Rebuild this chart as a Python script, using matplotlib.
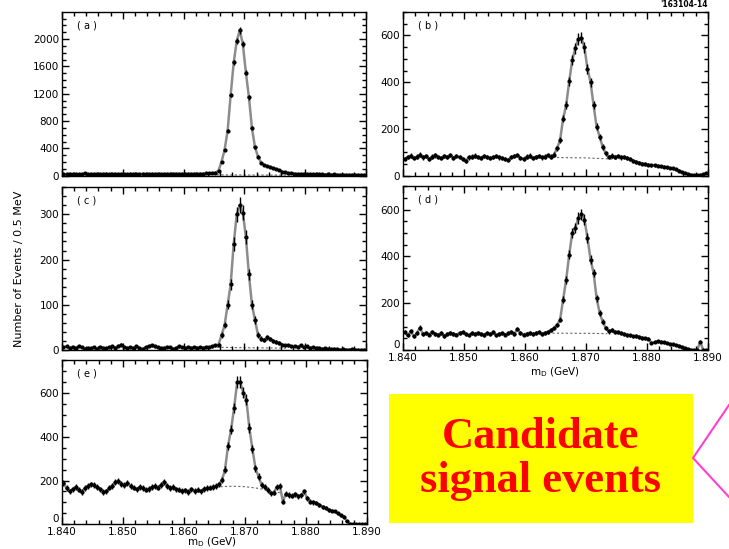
import numpy as np
import matplotlib.pyplot as plt
from matplotlib.patches import Rectangle
from matplotlib.lines import Line2D
from matplotlib.ticker import MultipleLocator, NullFormatter

# Binning: 0.5 MeV bins from 1.840 to 1.890 GeV
bin_lo = 1.840
bin_w = 0.0005
n_bins = 100

# Events per bin
counts_a = [28, 22, 30, 18, 25, 20, 24, 32, 19, 26,
            22, 28, 21, 25, 30, 20, 24, 27, 22, 26,
            24, 19, 28, 23, 26, 21, 30, 25, 22, 27,
            24, 28, 20, 26, 29, 23, 27, 31, 25, 28,
            26, 30, 24, 28, 25, 30, 28, 32, 35, 38,
            45, 75, 205, 377, 660, 1183, 1657, 1975, 2126, 1926,
            1510, 1149, 695, 416, 279, 190, 157, 140, 125, 110,
            94, 78, 60, 50, 38, 35, 30, 27, 25, 28,
            22, 24, 20, 22, 18, 21, 17, 19, 15, 18,
            14, 16, 13, 15, 12, 14, 11, 13, 10, 12]

counts_b = [72, 80, 86, 74, 82, 90, 78, 84, 70, 82,
            87, 80, 74, 85, 81, 88, 76, 83, 79, 72,
            64, 78, 82, 86, 80, 77, 84, 81, 75, 79,
            83, 78, 74, 70, 66, 80, 84, 88, 76, 72,
            82, 86, 74, 80, 84, 78, 82, 88, 82, 90,
            117, 152, 244, 301, 403, 495, 545, 585, 590, 549,
            457, 400, 301, 209, 166, 123, 95, 81, 86, 80,
            84, 78, 81, 74, 70, 64, 59, 56, 52, 50,
            47, 45, 44, 42, 40, 38, 35, 33, 31, 27,
            22, 16, 11, 7, 4, 3, 2, 4, 6, 12]

counts_c = [6, 8, 5, 7, 4, 9, 6, 3, 5, 4,
            6, 3, 7, 5, 4, 6, 8, 5, 9, 12,
            7, 5, 6, 4, 8, 5, 3, 6, 9, 11,
            8, 6, 4, 5, 7, 6, 3, 5, 8, 6,
            4, 7, 5, 6, 4, 6, 5, 7, 6, 8,
            10, 12, 33, 55, 100, 145, 235, 300, 320, 304,
            250, 167, 100, 66, 33, 25, 22, 28, 24, 20,
            17, 15, 12, 10, 11, 8, 9, 7, 10, 6,
            8, 5, 6, 4, 5, 3, 4, 3, 2, 3,
            2, 1, 2, 1, 1, 2, 1, 1, 0, 1]

counts_d = [75, 62, 80, 58, 72, 95, 68, 74, 66, 78,
            70, 64, 72, 60, 68, 74, 70, 66, 72, 76,
            69, 62, 71, 67, 74, 70, 65, 72, 68, 75,
            62, 70, 73, 66, 71, 78, 69, 90, 72, 66,
            70, 74, 68, 72, 76, 70, 74, 78, 84, 93,
            107, 129, 214, 300, 407, 500, 521, 564, 579, 557,
            479, 386, 329, 221, 157, 121, 93, 79, 84, 78,
            76, 72, 68, 64, 62, 58, 60, 55, 52, 50,
            48, 30, 34, 38, 35, 32, 30, 26, 24, 21,
            19, 14, 8, 4, 1, 0, 0, 35, 0, 0]

counts_e = [190, 165, 150, 160, 172, 158, 148, 165, 175, 182,
            178, 170, 160, 148, 150, 168, 175, 192, 196, 185,
            178, 190, 175, 168, 160, 172, 165, 158, 162, 170,
            175, 168, 180, 195, 176, 165, 170, 160, 158, 152,
            155, 148, 160, 152, 158, 150, 162, 165, 168, 172,
            175, 182, 203, 249, 359, 433, 532, 650, 650, 601,
            570, 440, 344, 257, 218, 180, 172, 157, 142, 145,
            170, 176, 104, 140, 134, 130, 138, 127, 132, 150,
            118, 104, 100, 97, 90, 81, 76, 66, 62, 59,
            50, 42, 35, 15, 3, 0, 0, 0, 0, 0]

# Background shape under the peak (dotted line)
bg_x_a = [1.8655, 1.870, 1.8775]
bg_y_a = [12, 10, 8]
bg_x_b = [1.8645, 1.870, 1.8755]
bg_y_b = [78, 76, 70]
bg_x_c = [1.8655, 1.870, 1.877]
bg_y_c = [6, 5, 4]
bg_x_d = [1.8645, 1.870, 1.8735]
bg_y_d = [72, 71, 70]
bg_x_e = [1.866, 1.868, 1.870, 1.872, 1.874, 1.876]
bg_y_e = [172, 174, 172, 165, 155, 142]

x = bin_lo + bin_w * (np.arange(n_bins) + 0.5)

fig = plt.figure(figsize=(7.29, 5.49), dpi=100)
plt.rcParams['font.family'] = 'DejaVu Sans'
bottom_axes = []


def draw_panel(rect, counts, bg_x, bg_y, ymax, ymaj, ymin, tag, xlabels):
    ax = fig.add_axes(rect)
    counts = np.array(counts, dtype=float)
    ax.plot(x, counts, color='0.55', lw=1.8, zorder=1)
    ax.plot(bg_x, bg_y, color='0.4', lw=0.8, ls=(0, (2, 2)), zorder=1)
    ax.errorbar(x, counts, yerr=np.sqrt(counts), xerr=bin_w / 2, fmt='o', ms=2.0,
                color='black', elinewidth=1.0, capsize=0, zorder=2)
    ax.set_xlim(1.840, 1.890)
    ax.set_ylim(0, ymax)
    ax.xaxis.set_major_locator(MultipleLocator(0.010))
    ax.xaxis.set_minor_locator(MultipleLocator(0.002))
    ax.yaxis.set_major_locator(MultipleLocator(ymaj))
    ax.yaxis.set_minor_locator(MultipleLocator(ymin))
    ax.tick_params(which='both', direction='in', top=True, right=True, width=1,
                   labelsize=7.5, pad=2)
    ax.tick_params(which='major', length=5)
    ax.tick_params(which='minor', length=3)
    if xlabels:
        ax.xaxis.set_major_formatter(plt.FormatStrFormatter('%.3f'))
        bottom_axes.append(ax)
    else:
        ax.xaxis.set_major_formatter(NullFormatter())
    for s in ax.spines.values():
        s.set_linewidth(1)
    ax.text(0.05, 0.92, tag, transform=ax.transAxes, fontsize=7, va='center', ha='left')
    return ax


draw_panel([0.085, 0.680, 0.417, 0.298], counts_a, bg_x_a, bg_y_a, 2395, 400, 100, '( a )', False)
draw_panel([0.553, 0.680, 0.418, 0.298], counts_b, bg_x_b, bg_y_b, 700, 200, 50, '( b )', False)
draw_panel([0.085, 0.3625, 0.417, 0.2965], counts_c, bg_x_c, bg_y_c, 360, 100, 20, '( c )', False)
draw_panel([0.553, 0.3625, 0.418, 0.2985], counts_d, bg_x_d, bg_y_d, 700, 200, 50, '( d )', True)
draw_panel([0.085, 0.045, 0.418, 0.299], counts_e, bg_x_e, bg_y_e, 750, 200, 50, '( e )', True)

# lift the "0" label of the lower panels so it clears the 1.840 label
fig.canvas.draw()
for ax in bottom_axes:
    for tick in ax.yaxis.get_major_ticks():
        if tick.get_loc() == 0:
            tick.label1.set_va('bottom')

# x-axis titles under (d) and (e)
fig.text(555 / 729, 1 - 372 / 549, r'm$_\mathrm{D}$ (GeV)', fontsize=7.5, ha='center', va='center')
fig.text(212 / 729, 1 - 542 / 549, r'm$_\mathrm{D}$ (GeV)', fontsize=7.5, ha='center', va='center')

fig.text(19 / 729, 1 - 269 / 549, 'Number of Events / 0.5 MeV', rotation=90,
         fontsize=8, ha='center', va='center')
fig.text(0.971, 0.991, "'163104-14", fontsize=5.5, ha='right', va='center', weight='bold')

# Yellow call-out box
fig.patches.append(Rectangle((389 / 729, 1 - 523 / 549), 304 / 729, 129 / 549,
                             transform=fig.transFigure, facecolor='#ffff00',
                             edgecolor='none', zorder=5))
fig.text(541 / 729, 1 - 459 / 549, 'Candidate\nsignal events', fontsize=32,
         family='Liberation Serif', weight='bold', color='#ff0000',
         ha='center', va='center', linespacing=1.15, zorder=6)
fig.lines.append(Line2D([1.0, 693 / 729, 1.0], [1 - 405 / 549, 1 - 458 / 549, 1 - 497 / 549],
                        transform=fig.transFigure, color='#ff3fd0', lw=1.5, zorder=6))

fig.savefig('out.png', dpi=100)
